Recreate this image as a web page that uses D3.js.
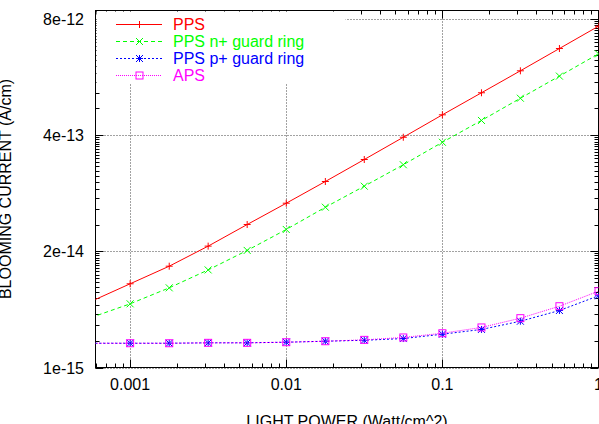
<!DOCTYPE html>
<html lang="en">
<head>
<meta charset="utf-8">
<title>Blooming current</title>
<script src="https://d3js.org/d3.v7.min.js"></script>
<style>
  body { margin: 0; background: #fff; }
  text { font-family: "Liberation Sans", Arial, sans-serif; }
</style>
</head>
<body>
<svg id="chart" width="599" height="424"></svg>
<script>
// light power (Watt/cm^2), same x for all series
var lightPower = [0.000562, 0.001, 0.00178, 0.00316, 0.00562, 0.01, 0.0178, 0.0316, 0.0562, 0.1, 0.178, 0.316, 0.562, 1];
var pps      = [5.5e-15, 8.67e-15, 1.365e-14, 2.29e-14, 4.0e-14, 6.93e-14, 1.213e-13, 2.14e-13, 3.8e-13, 6.78e-13, 1.197e-12, 2.11e-12, 3.75e-12, 6.67e-12];
var ppsNGuard = [3.63e-15, 5.17e-15, 7.81e-15, 1.24e-14, 2.05e-14, 3.52e-14, 6.25e-14, 1.075e-13, 1.87e-13, 3.34e-13, 5.86e-13, 1.04e-12, 1.84e-12, 3.27e-12];
var ppsPGuard = [1.87e-15, 1.87e-15, 1.87e-15, 1.89e-15, 1.89e-15, 1.92e-15, 1.97e-15, 2.02e-15, 2.11e-15, 2.36e-15, 2.67e-15, 3.3e-15, 4.35e-15, 6.36e-15];
var aps       = [1.87e-15, 1.87e-15, 1.87e-15, 1.89e-15, 1.89e-15, 1.92e-15, 1.97e-15, 2.04e-15, 2.17e-15, 2.42e-15, 2.81e-15, 3.57e-15, 4.86e-15, 7.16e-15];

var seriesNames = ["PPS", "PPS n+ guard ring", "PPS p+ guard ring", "APS"];
var xTicks = [0.001, 0.01, 0.1, 1];
var xTickLabels = ["0.001", "0.01", "0.1", "1"];
var yTicks = [1e-15, 2e-14, 4e-13, 8e-12];
var yTickLabels = ["1e-15", "2e-14", "4e-13", "8e-12"];
var xDomain = [6e-4, 1];
var yDomain = [1e-15, 1e-11];

var series = [
  {name: seriesNames[0], vals: pps,       color: "#ff0000", dash: null,  mark: "plus"},
  {name: seriesNames[1], vals: ppsNGuard, color: "#00ff00", dash: "4,3", mark: "cross"},
  {name: seriesNames[2], vals: ppsPGuard, color: "#0000ff", dash: "2,2", mark: "star"},
  {name: seriesNames[3], vals: aps,       color: "#ff00ff", dash: "1,1", mark: "box"}
];

var L = 95.5, R = 598.5, T = 10.5, B = 367.5;
var svg = d3.select("#chart");

var x = d3.scaleLog().domain(xDomain).range([L, R]);
var y = d3.scaleLog().domain(yDomain).range([B, T]);

svg.append("clipPath").attr("id", "plotclip")
  .append("rect").attr("x", L).attr("y", T).attr("width", R - L).attr("height", B - T);

// grid (legend box hides part of it)
var grid = svg.append("g").attr("stroke", "#444").attr("stroke-width", 1).attr("stroke-dasharray", "1,2");
xTicks.forEach(function(t) {
  grid.append("line").attr("x1", Math.round(x(t)) + 0.5).attr("x2", Math.round(x(t)) + 0.5)
    .attr("y1", B).attr("y2", T);
});
yTicks.forEach(function(t) {
  grid.append("line").attr("y1", Math.round(y(t)) + 0.5).attr("y2", Math.round(y(t)) + 0.5)
    .attr("x1", L).attr("x2", R);
});

// minor ticks
var xMinor = [];
[-4, -3, -2, -1].forEach(function(e) {
  for (var k = 2; k <= 9; k++) {
    var v = k * Math.pow(10, e);
    if (v > xDomain[0] && v < xDomain[1]) xMinor.push(v);
  }
});
var yMinor = [];
yTicks.forEach(function(m) {
  for (var k = 2; k <= 19; k++) {
    var v = m * k;
    if (v < yDomain[1]) yMinor.push(v);
  }
});

var ax = svg.append("g").attr("stroke", "#000").attr("stroke-width", 1);
xMinor.forEach(function(v) {
  var px = Math.round(x(v)) + 0.5;
  ax.append("line").attr("x1", px).attr("x2", px).attr("y1", B).attr("y2", B - 4);
  ax.append("line").attr("x1", px).attr("x2", px).attr("y1", T).attr("y2", T + 4);
});
xTicks.forEach(function(v) {
  var px = Math.round(x(v)) + 0.5;
  ax.append("line").attr("x1", px).attr("x2", px).attr("y1", B).attr("y2", B - 8);
  ax.append("line").attr("x1", px).attr("x2", px).attr("y1", T).attr("y2", T + 8);
});
yMinor.forEach(function(v) {
  var py = Math.round(y(v)) + 0.5;
  ax.append("line").attr("y1", py).attr("y2", py).attr("x1", L).attr("x2", L + 4);
  ax.append("line").attr("y1", py).attr("y2", py).attr("x1", R).attr("x2", R - 4);
});
yTicks.forEach(function(v) {
  var py = Math.round(y(v)) + 0.5;
  ax.append("line").attr("y1", py).attr("y2", py).attr("x1", L).attr("x2", L + 8);
  ax.append("line").attr("y1", py).attr("y2", py).attr("x1", R).attr("x2", R - 8);
});

// legend background box
svg.append("rect").attr("x", L + 1).attr("y", T + 1).attr("width", 249).attr("height", 72).attr("fill", "#fff");

// border
svg.append("rect").attr("x", L).attr("y", T).attr("width", R - L).attr("height", B - T)
  .attr("fill", "none").attr("stroke", "#000").attr("stroke-width", 1);

// tick labels
xTicks.forEach(function(v, i) {
  svg.append("text").attr("x", x(v)).attr("y", 390).attr("text-anchor", "middle")
    .attr("font-size", 16).text(xTickLabels[i]);
});
yTicks.forEach(function(v, i) {
  svg.append("text").attr("x", 84).attr("y", y(v) + 6).attr("text-anchor", "end")
    .attr("font-size", 16).text(yTickLabels[i]);
});

// axis titles (partly outside the picture, as in the original)
svg.append("text").attr("x", (L + R) / 2).attr("y", 427).attr("text-anchor", "middle")
  .attr("font-size", 16).text("LIGHT POWER (Watt/cm^2)");
svg.append("text").attr("transform", "translate(11," + ((T + B) / 2) + ") rotate(-90)")
  .attr("text-anchor", "middle").attr("font-size", 16).text("BLOOMING CURRENT (A/cm)");

// markers
function drawMark(g, kind, cx, cy, color) {
  var s = 3.5;
  if (kind === "plus" || kind === "star") {
    g.append("line").attr("x1", cx - s).attr("x2", cx + s).attr("y1", cy).attr("y2", cy).attr("stroke", color);
    g.append("line").attr("x1", cx).attr("x2", cx).attr("y1", cy - s).attr("y2", cy + s).attr("stroke", color);
  }
  if (kind === "cross" || kind === "star") {
    g.append("line").attr("x1", cx - s).attr("x2", cx + s).attr("y1", cy - s).attr("y2", cy + s).attr("stroke", color);
    g.append("line").attr("x1", cx - s).attr("x2", cx + s).attr("y1", cy + s).attr("y2", cy - s).attr("stroke", color);
  }
  if (kind === "box") {
    g.append("rect").attr("x", cx - s).attr("y", cy - s).attr("width", 2 * s).attr("height", 2 * s)
      .attr("fill", "none").attr("stroke", color);
  }
}

var plot = svg.append("g").attr("clip-path", "url(#plotclip)");
var line = d3.line().x(function(d) { return x(d[0]); }).y(function(d) { return y(d[1]); });

series.forEach(function(s) {
  var pts = lightPower.map(function(lp, i) { return [lp, s.vals[i]]; });
  plot.append("path").datum(pts).attr("d", line).attr("fill", "none")
    .attr("stroke", s.color).attr("stroke-width", 1)
    .attr("stroke-dasharray", s.dash);
  var mg = plot.append("g").attr("stroke-width", 1);
  pts.forEach(function(p) { drawMark(mg, s.mark, x(p[0]), y(p[1]), s.color); });
});

// legend
series.forEach(function(s, i) {
  var ly = 24 + i * 17;
  svg.append("line").attr("x1", 116).attr("x2", 162).attr("y1", ly + 0.5).attr("y2", ly + 0.5)
    .attr("stroke", s.color).attr("stroke-dasharray", s.dash);
  drawMark(svg.append("g"), s.mark, 139.5, ly + 0.5, s.color);
  svg.append("text").attr("x", 173).attr("y", ly + 6).attr("font-size", 16)
    .attr("fill", s.color).text(s.name);
});
</script>
</body>
</html>
